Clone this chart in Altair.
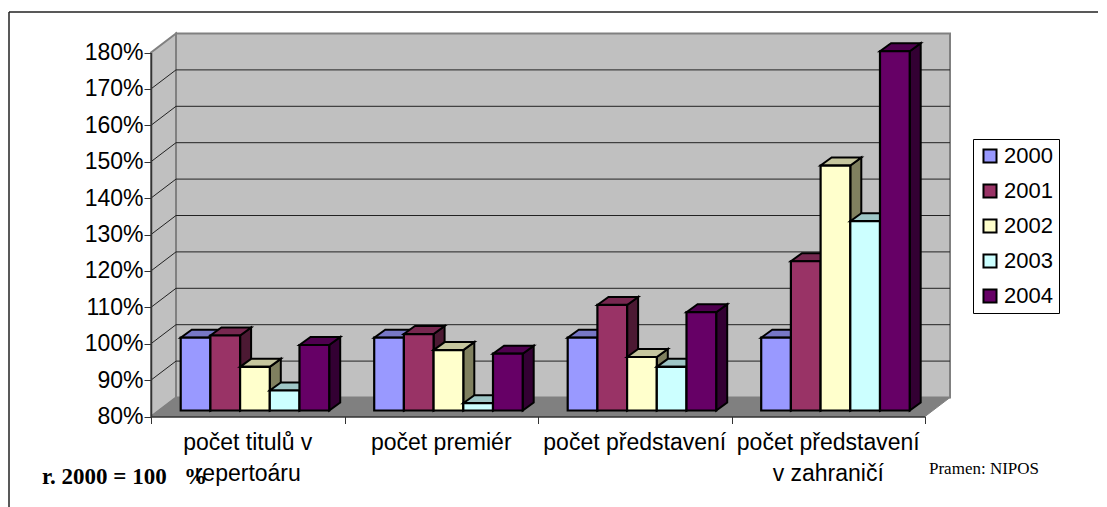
import altair as alt
import pandas as pd

categories = ["počet titulů v\nrepertoáru", "počet premiér", "počet představení", "počet představení\nv zahraničí"]
years = ["2000", "2001", "2002", "2003", "2004"]
values = {
    "2000": [100, 100, 100, 100],
    "2001": [100.6, 101, 109, 121],
    "2002": [92, 96.6, 94.7, 147.3],
    "2003": [85.5, 82, 92, 132],
    "2004": [98, 95.6, 107, 178.7],
}
front_colors = ["#9999FF", "#993366", "#FFFFCC", "#CCFFFF", "#660066"]
top_colors = ["#7777C6", "#772850", "#C6C69E", "#9EC6C6", "#4F004F"]
side_colors = ["#4C4C80", "#4C1933", "#80805F", "#668080", "#330033"]
y_ticks = list(range(80, 190, 10))

# Depth of the 3D box and of the bars, in axis units
UNIT_X = 774 / 4
UNIT_Y = 3.64
WALL_DX = 25 / UNIT_X
WALL_DY = 19 / UNIT_Y
BAR_DX = 11 / UNIT_X
BAR_DY = 8 / UNIT_Y
BAR_OFF_Y = 6 / UNIT_Y
BAR_W = 29.7 / UNIT_X
BAR_MARGIN = 29.7 / UNIT_X

XS = alt.Scale(domain=[0, 4], range=[142, 916])
YS = alt.Scale(domain=[80, 180], range=[404.5, 40.5])
X_AXIS = alt.Axis(values=[0, 1, 2, 3, 4], labels=False, grid=False, offset=-90.5,
                  domainColor="#333333", domainWidth=1.5, tickColor="#333333",
                  tickSize=7, tickWidth=1, zindex=1)
Y_AXIS = alt.Axis(values=y_ticks, labelExpr="datum.value + '%'", grid=False, offset=-142,
                  domainColor="#333333", domainWidth=1.5, tickColor="#333333",
                  tickSize=7, tickWidth=1, labelFont="Liberation Sans", labelFontSize=23,
                  labelColor="black", labelPadding=1, zindex=1)
x = lambda f: alt.X(f, type="quantitative", scale=XS, title=None, axis=X_AXIS)
y = lambda f: alt.Y(f, type="quantitative", scale=YS, title=None, axis=Y_AXIS)


def vband(rows, **mark):
    return alt.Chart(pd.DataFrame(rows)).mark_area(orient="vertical", **mark).encode(
        x=x("x"), y=y("y"), y2="y2:Q", detail="g:N")


def hband(rows, **mark):
    return alt.Chart(pd.DataFrame(rows)).mark_area(orient="horizontal", **mark).encode(
        y=y("y"), x=x("x"), x2="x2:Q", detail="g:N")


layers = []
# side wall
layers.append(vband([
    dict(x=0, y=180, y2=80, g=0),
    dict(x=WALL_DX, y=180 + WALL_DY, y2=80 + WALL_DY, g=0)],
    fill="#C0C0C0", stroke="#808080", strokeWidth=2))
# back wall
layers.append(vband([
    dict(x=WALL_DX, y=180 + WALL_DY, y2=80 + WALL_DY, g=0),
    dict(x=4 + WALL_DX, y=180 + WALL_DY, y2=80 + WALL_DY, g=0)],
    fill="#C0C0C0", stroke="#808080", strokeWidth=2))
# floor
layers.append(hband([
    dict(y=80, x=0, x2=4, g=0),
    dict(y=80 + WALL_DY, x=WALL_DX, x2=4 + WALL_DX, g=0)],
    fill="#808080", stroke="#808080", strokeWidth=1))
# gridlines on back wall and side wall
grid = [t for t in y_ticks if 80 < t < 180]
grid_rows = []
for t in grid:
    grid_rows += [dict(x=WALL_DX, y=t + WALL_DY, k=f"b{t}"), dict(x=4 + WALL_DX, y=t + WALL_DY, k=f"b{t}")]
    grid_rows += [dict(x=0, y=t, k=f"s{t}"), dict(x=WALL_DX, y=t + WALL_DY, k=f"s{t}")]
layers.append(alt.Chart(pd.DataFrame(grid_rows)).mark_line(color="#222222", strokeWidth=1).encode(
    x=x("x"), y=y("y"), detail="k:N"))

# bars: side, top and front per year, left to right
for i, yr in enumerate(years):
    sides, tops, fronts = [], [], []
    for g, v in enumerate(values[yr]):
        l = g + BAR_MARGIN + i * BAR_W
        r = l + BAR_W
        base = 80 + BAR_OFF_Y
        top = v + BAR_OFF_Y
        sides += [dict(x=r, y=top, y2=base, g=g),
                  dict(x=r + BAR_DX, y=top + BAR_DY, y2=base + BAR_DY, g=g)]
        tops += [dict(y=top, x=l, x2=r, g=g),
                 dict(y=top + BAR_DY, x=l + BAR_DX, x2=r + BAR_DX, g=g)]
        fronts.append(dict(x=l, x2=r, y=top, y2=base, year=yr, g=g))
    layers.append(vband(sides, fill=side_colors[i], stroke="black", strokeWidth=2))
    layers.append(hband(tops, fill=top_colors[i], stroke="black", strokeWidth=2))
    layers.append(alt.Chart(pd.DataFrame(fronts)).mark_bar(stroke="black", strokeWidth=2.2).encode(
        x=x("x"), x2="x2:Q", y=y("y"), y2="y2:Q",
        color=alt.Color("year:N", title=None,
                        scale=alt.Scale(domain=years, range=front_colors),
                        legend=alt.Legend(orient="none", legendX=964, legendY=127,
                                          fillColor="white", strokeColor="black",
                                          padding=6, symbolType="square", symbolSize=170,
                                          symbolStrokeColor="black", symbolStrokeWidth=2,
                                          labelFont="Liberation Sans", labelFontSize=22,
                                          labelColor="black", rowPadding=13, labelOffset=3))))

# category labels
cat_df = pd.DataFrame({"c": categories, "p": [0.5, 1.5, 2.5, 3.5], "b": [80] * 4})
layers.append(alt.Chart(cat_df).mark_text(
    font="Liberation Sans", fontSize=23, color="black", baseline="top", lineBreak="\n",
    lineHeight=31, dy=15).encode(
    x=x("p"), y=y("b"), text="c:N"))

# notes
notes = [("r. 2000 = 100\u00a0\u00a0\u00a0%", 33, 465, "bold", 23), ("Pramen: NIPOS", 920, 457, "normal", 17)]
for t, px, py, w, fs in notes:
    layers.append(alt.Chart(pd.DataFrame({"t": [t]})).mark_text(
        font="Liberation Serif", fontWeight=w, fontSize=fs, color="black", align="left",
        baseline="middle").encode(x=alt.value(px), y=alt.value(py), text="t:N"))

# frame: only its top and left edges fall inside the picture
frame_top = alt.Chart(pd.DataFrame({"a": [0]})).mark_rule(color="#222222", strokeWidth=1.5).encode(
    x=alt.value(0), x2=alt.value(1089), y=alt.value(0))
frame_left = alt.Chart(pd.DataFrame({"a": [0]})).mark_rule(color="#222222", strokeWidth=1.5).encode(
    x=alt.value(0), y=alt.value(0), y2=alt.value(495))
layers += [frame_top, frame_left]

chart = alt.layer(*layers).properties(
    width=1089, height=495, background="white",
    padding={"left": 1, "top": 4, "right": 0, "bottom": 0},
    autosize=alt.AutoSizeParams(type="none"),
).configure_view(stroke=None)
chart.save("out.html", embed_options={"renderer": "svg", "actions": False})
